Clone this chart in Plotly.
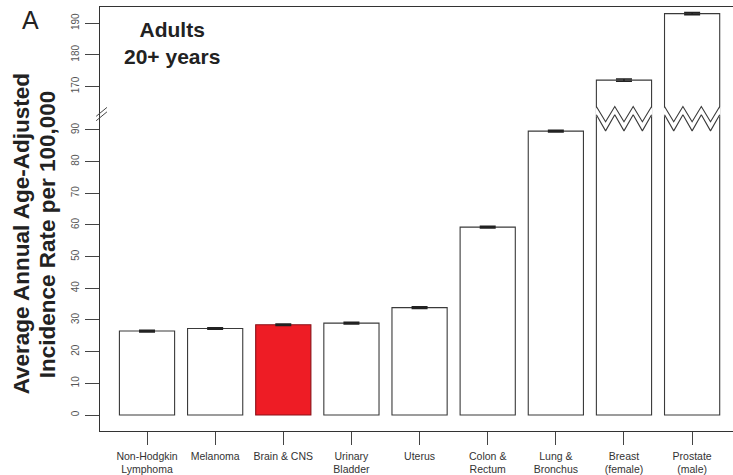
import plotly.graph_objects as go

categories = ["Non-Hodgkin<br>Lymphoma", "Melanoma", "Brain & CNS", "Urinary<br>Bladder",
              "Uterus", "Colon &<br>Rectum", "Lung &<br>Bronchus", "Breast<br>(female)",
              "Prostate<br>(male)"]
rates = [26.5, 27.3, 28.5, 29.0, 33.9, 59.3, 89.6, 172.0, 193.0]
ci_half = [0.25, 0.25, 0.25, 0.25, 0.25, 0.25, 0.25, 0.35, 0.35]
highlight = "Brain & CNS"

lower_ticks = [0, 10, 20, 30, 40, 50, 60, 70, 80, 90]
upper_ticks = [170, 180, 190]

y_title_lines = ["Average Annual Age-Adjusted", "Incidence Rate per 100,000"]

BREAK_LOW = 95.7   # top of the lower scale
BREAK_HIGH = 162.0  # bottom of the upper scale
GAP = BREAK_HIGH - BREAK_LOW


def v(y):
    return y if y <= BREAK_LOW else y - GAP


x_idx = list(range(len(categories)))
bar_w = 0.81
fills = ["#ee1c25" if c == highlight else "white" for c in categories]
lines = ["#8a1018" if c == highlight else "#3a3a3a" for c in categories]

fig = go.Figure()
fig.add_trace(go.Bar(
    x=x_idx, y=[v(r) for r in rates], width=bar_w,
    marker=dict(color=fills, line=dict(color=lines, width=1.1)),
    error_y=dict(type="data", array=ci_half, visible=True, color="#222",
                 thickness=1.6, width=8),
    showlegend=False, hoverinfo="skip"))

# zigzag break marks on bars that exceed the lower scale
z_top_hi, z_top_lo = 97.4, 92.6
z_bot_hi, z_bot_lo = 94.8, 89.7
for i, r in enumerate(rates):
    if r > BREAK_LOW:
        xs = [i - bar_w / 2 + k * bar_w / 6 for k in range(7)]
        top = [z_top_hi if k % 2 == 0 else z_top_lo for k in range(7)]
        bot = [z_bot_hi if k % 2 == 0 else z_bot_lo for k in range(7)]
        pad = 0.012
        xs_f = [xs[0] - pad] + xs[1:-1] + [xs[-1] + pad]
        fig.add_trace(go.Scatter(
            x=xs_f + xs_f[::-1], y=top + bot[::-1], fill="toself",
            fillcolor="white", line=dict(width=0), mode="lines",
            showlegend=False, hoverinfo="skip"))
        for yy in (top, bot):
            fig.add_trace(go.Scatter(
                x=xs, y=yy, mode="lines", line=dict(color="#3a3a3a", width=1.1),
                showlegend=False, hoverinfo="skip"))

tickvals = [v(t) for t in lower_ticks] + [v(t) for t in upper_ticks]
ticktext = [str(t) for t in lower_ticks + upper_ticks]

fig.update_xaxes(
    range=[-0.69, 8.6], tickvals=x_idx, ticktext=categories,
    showline=True, linecolor="#333", linewidth=1.2, mirror=True,
    ticks="outside", ticklen=13, tickcolor="#444", tickwidth=1,
    ticklabelstandoff=2,
    tickfont=dict(family="Liberation Sans, Arial", size=10.5, color="#333"),
    showgrid=False, zeroline=False, fixedrange=True)
fig.update_yaxes(
    range=[-5.05, 128.8], tickvals=tickvals, ticktext=ticktext, tickangle=-90,
    showline=True, linecolor="#333", linewidth=1.2,
    ticks="outside", ticklen=14, tickcolor="#444", tickwidth=1,
    ticklabelstandoff=2,
    tickfont=dict(family="Liberation Sans, Arial", size=10, color="#555"),
    showgrid=False, zeroline=False, fixedrange=True)

# axis break marks on the y-axis
for off in (0.0, 1.4):
    fig.add_shape(type="line", xref="paper", yref="y",
                  x0=-0.006, x1=0.011, y0=BREAK_LOW - 1.4 - off, y1=BREAK_LOW + 1.4 - off,
                  line=dict(color="#444", width=1))

for xp, txt in zip((-0.124, -0.083), y_title_lines):
    fig.add_annotation(text="<b>" + txt + "</b>",
                       xref="paper", yref="paper", x=xp, y=0.465, xanchor="center",
                       yanchor="middle", textangle=-90, showarrow=False,
                       font=dict(family="Liberation Sans, Arial", size=22.5, color="#222"))
fig.add_annotation(text="A", xref="paper", yref="paper", x=-0.11, y=0.969,
                   xanchor="center", yanchor="middle", showarrow=False,
                   font=dict(family="Liberation Sans, Arial", size=25, color="#222"))
fig.add_annotation(text="<b>Adults</b><br><b>20+ years</b>", xref="paper", yref="paper",
                   x=0.113, y=0.915, xanchor="center", yanchor="middle", showarrow=False,
                   font=dict(family="Liberation Sans, Arial", size=21, color="#222"))

fig.update_layout(
    width=733, height=475, margin=dict(l=100, r=0, t=7, b=44),
    plot_bgcolor="white", paper_bgcolor="white", bargap=0.19)

fig.write_html("out.html")
